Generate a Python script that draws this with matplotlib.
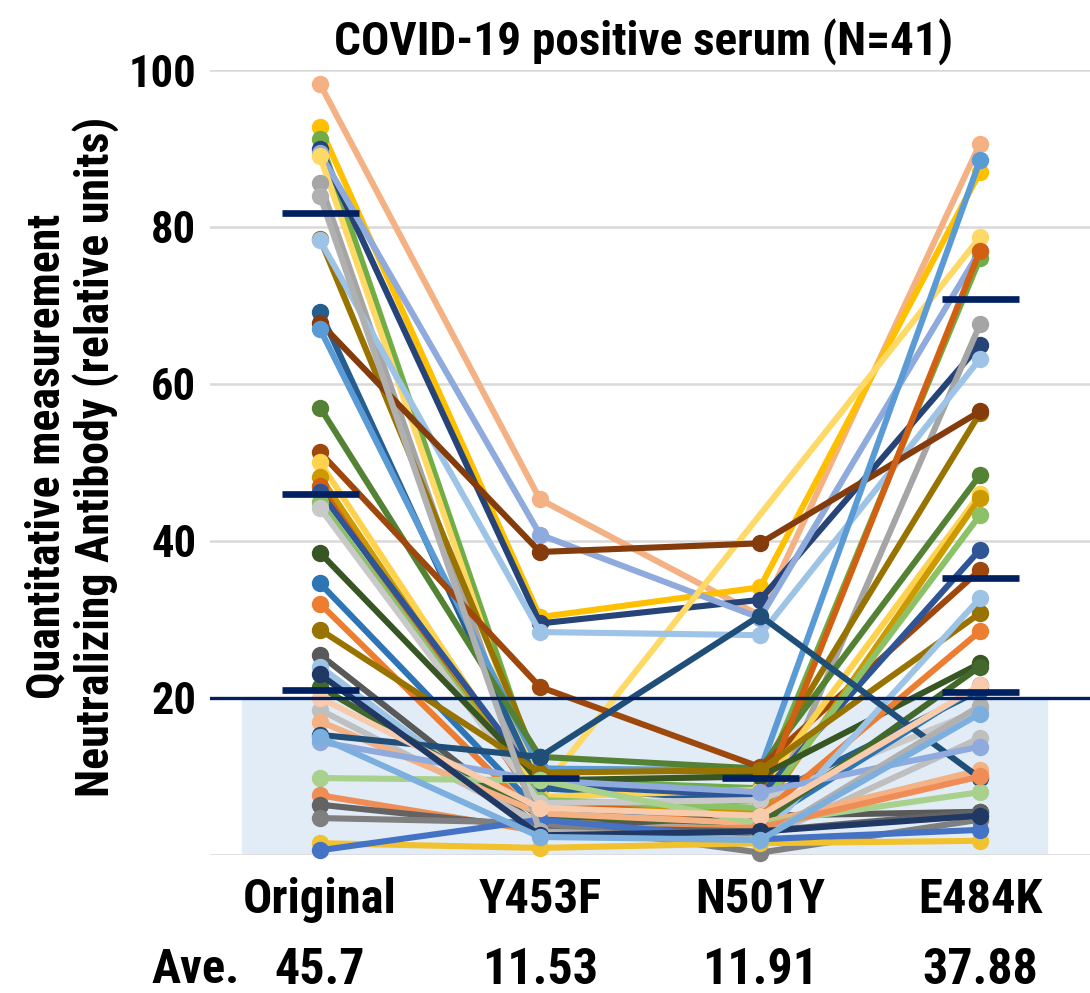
import numpy as np
import matplotlib
matplotlib.use("Agg")
import matplotlib.pyplot as plt
from matplotlib import font_manager

# ---------------- data ----------------
categories = ["Original", "Y453F", "N501Y", "E484K"]
ave_labels = ["45.7", "11.53", "11.91", "37.88"]

original = [98.2, 92.7, 91.2, 90.0, 89.4, 89.0, 85.6, 78.5, 78.3, 69.2,
            67.8, 67.0, 57.0, 51.3, 50.0, 48.2, 47.0, 46.2, 45.0, 44.2,
            38.5, 34.6, 32.0, 28.7, 25.5, 24.0, 21.4, 18.5, 17.0, 15.3,
            14.4, 9.8, 7.6, 6.4, 4.7, 1.5, 0.6, 84.0, 20.0, 23.0, 15.0]
y453f = [45.3, 30.3, 9.5, 29.5, 40.8, 8.0, 5.0, 11.0, 28.4, 8.5,
         38.6, 11.0, 12.5, 21.4, 7.4, 6.6, 6.0, 9.0, 7.0, 6.6,
         9.5, 5.5, 4.5, 10.5, 3.5, 3.0, 5.0, 4.0, 5.3, 12.5,
         9.5, 9.5, 3.0, 3.5, 4.1, 0.9, 4.5, 3.0, 6.0, 2.5, 2.3]
n501y = [30.5, 34.1, 8.5, 32.5, 30.2, np.nan, 3.0, 10.5, 28.0, 7.0,
         39.7, 10.8, 11.0, 11.2, 8.3, 5.3, 7.0, 7.5, 6.0, 7.0,
         10.0, 4.0, 5.0, 10.8, 5.0, 2.0, 4.0, 2.0, 4.0, 30.5,
         8.0, 4.0, 3.5, 3.0, 0.3, 1.5, 2.0, 2.0, 5.0, 3.0, 1.9]
e484k = [90.6, 87.0, 76.0, 65.0, 77.0, 78.7, 67.6, 56.3, 63.2, 21.0,
         56.5, 88.5, 48.4, 36.3, 46.0, 45.5, 77.0, 38.9, 43.3, 18.5,
         24.4, 21.6, 28.5, 30.8, 5.5, 32.7, 24.0, 14.9, 10.8, 9.8,
         13.8, 8.0, 10.0, 5.5, 4.5, 1.8, 3.2, 19.0, 21.6, 5.0, 18.0]
series_colors = ["#F4B183", "#FFC000", "#70AD47", "#264478", "#8FAADC",
                 "#FFD966", "#A5A5A5", "#997300", "#9DC3E6", "#255E91",
                 "#843C0C", "#5B9BD5", "#548235", "#9E480E", "#FFD24D",
                 "#CC9A00", "#D26012", "#2F5597", "#8CC168", "#C9C9C9",
                 "#375623", "#2E75B6", "#ED7D31", "#997300", "#595959",
                 "#9DC3E6", "#43682B", "#BFBFBF", "#F4B183", "#1F4E79",
                 "#8FAADC", "#A9D18E", "#F08C55", "#636363", "#7F7F7F",
                 "#F2C12E", "#4472C4", "#B0B0B0", "#F8CBAD", "#203864",
                 "#7CAFDD"]

# summary dash markers per category (value levels)
dash_cat = [0, 0, 0, 1, 2, 3, 3, 3]
dash_val = [81.8, 46.0, 21.0, 9.8, 9.8, 70.8, 35.3, 20.8]
threshold = 20

# ---------------- fonts ----------------
names = {f.name for f in font_manager.fontManager.ttflist}
cands = ["Liberation Sans Narrow", "Roboto Condensed", "DejaVu Sans Condensed",
         "Open Sans Condensed", "Liberation Sans"]
main_font = next((c for c in cands if c in names), "DejaVu Sans")
plt.rcParams["font.family"] = [main_font, "DejaVu Sans"]
plt.rcParams["font.weight"] = "bold"

# ---------------- figure ----------------
fig = plt.figure(figsize=(10.9, 9.93), dpi=100)
ax = fig.add_axes([0.1927, 0.139, 0.8073, 0.7905])

x = np.arange(len(categories))
ax.set_xlim(-0.5, 3.5)
ax.set_ylim(0, 100)

# shaded region below threshold
ax.axhspan(0, threshold, xmin=0.036, xmax=0.951, color="#E2ECF7", zorder=0)

# gridlines
for g in [0, 20, 40, 60, 80, 100]:
    ax.axhline(g, color="#D9D9D9", lw=1.8, zorder=0.5)

data = np.array([original, y453f, n501y, e484k], dtype=float).T
for i in range(data.shape[0]):
    vals = data[i]
    m = ~np.isnan(vals)
    ax.plot(x[m], vals[m], color=series_colors[i], lw=4.4, marker="o",
            ms=11.5, zorder=2 + i * 0.01, clip_on=False, solid_capstyle="round")

# threshold line
ax.axhline(threshold, color="#002060", lw=2.4, zorder=5)

# summary dashes
for c, v in zip(dash_cat, dash_val):
    ax.plot([c - 0.175, c + 0.175], [v, v], color="#002060", lw=4.8,
            solid_capstyle="butt", zorder=6)

for s in ax.spines.values():
    s.set_visible(False)

ax.set_yticks([20, 40, 60, 80, 100])
ax.set_yticklabels(["20", "40", "60", "80", "100"], fontsize=32, fontweight="bold")
ax.set_xticks(x)
ax.set_xticklabels(categories, fontsize=35, fontweight="bold")
ax.tick_params(axis="both", length=0)
ax.tick_params(axis="y", pad=10)
ax.tick_params(axis="x", pad=16)

# Ave. row
trans = ax.get_xaxis_transform()
ax.text(-0.567, -0.147, "Ave.", transform=trans, ha="center", va="center",
        fontsize=35, fontweight="bold")
for xi, lab in zip(x, ave_labels):
    ax.text(xi, -0.147, lab, transform=trans, ha="center", va="center",
            fontsize=36, fontweight="bold")

fig.text(0.59, 0.958, "COVID-19 positive serum (N=41)", ha="center", va="center",
         fontsize=34, fontweight="bold")
fig.text(0.066, 0.54, "Quantitative measurement\nNeutralizing Antibody (relative units)",
         rotation=90, ha="center", va="center", fontsize=33, fontweight="bold",
         linespacing=1.1)

fig.savefig("out.png", dpi=100)
